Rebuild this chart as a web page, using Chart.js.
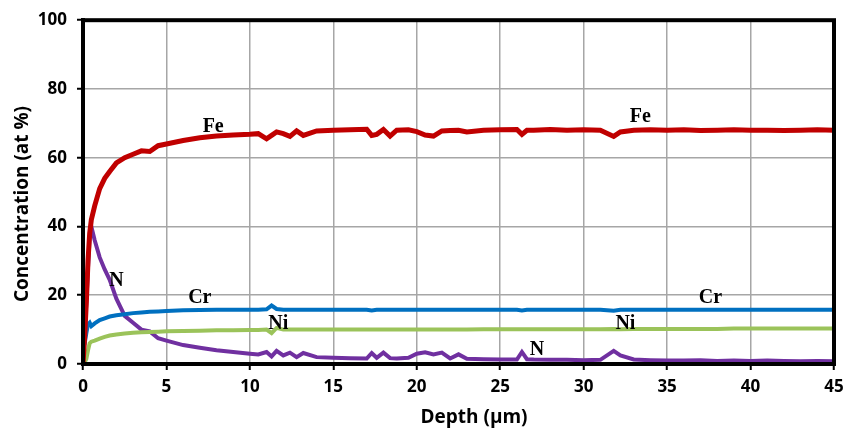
<!DOCTYPE html>
<html>
<head>
<meta charset="utf-8">
<script src="https://cdn.jsdelivr.net/npm/chart.js@4"></script>
<style>
  html, body { margin: 0; padding: 0; background: #fff; }
</style>
</head>
<body>
<canvas id="depthChart" width="854" height="429"></canvas>
<script>
// depth profile values (at %)
const depth = [0, 0.1, 0.2, 0.3, 0.4, 0.5, 0.7, 1, 1.3, 1.6, 2, 2.5, 3, 3.5, 4, 4.5, 5, 6, 7, 8, 9, 10,
    10.5, 11, 11.3, 11.6, 12, 12.4, 12.8, 13.2, 14, 15, 16, 17, 17.3, 17.6, 18, 18.4, 18.8, 19.5,
    20, 20.5, 21, 21.5, 22, 22.5, 23, 24, 25, 26, 26.3, 26.6, 27, 28, 29, 30, 31, 31.8, 32.2,
    33, 34, 35, 36, 37, 38, 39, 40, 41, 42, 43, 44, 45];
const fe = [0, 8, 18, 30, 38, 42, 46, 51, 54, 56, 58.5, 60, 61, 62, 61.8, 63.5, 64, 65, 65.8, 66.3, 66.6, 66.8,
    67, 65.5, 66.5, 67.5, 67, 66.2, 67.8, 66.5, 67.8, 68, 68.1, 68.3, 66.5, 66.8, 68.2, 66.3, 68, 68.1,
    67.6, 66.6, 66.3, 67.8, 67.9, 68, 67.5, 68, 68.1, 68.2, 66.8, 68, 68, 68.2, 68, 68.1, 68, 66.2, 67.5,
    68, 68.1, 68, 68.1, 67.9, 68, 68.1, 68, 68, 67.9, 68, 68.1, 68];
const nitrogen = [0, 8, 18, 28, 37, 40, 36, 31, 27.5, 24.5, 19, 14, 12, 10, 9.5, 7.5, 6.8, 5.5, 4.7, 4, 3.5, 3,
    2.8, 3.5, 2.2, 3.8, 2.5, 3.3, 2, 3.2, 2, 1.8, 1.7, 1.6, 3.2, 1.8, 3.3, 1.7, 1.6, 1.8,
    3, 3.4, 2.8, 3.3, 1.6, 2.8, 1.5, 1.4, 1.3, 1.3, 3.5, 1.4, 1.3, 1.2, 1.2, 1.1, 1.2, 3.8, 2.5,
    1.3, 1.1, 1, 1, 1.1, 0.9, 1, 0.9, 1, 0.9, 0.8, 0.9, 0.8];
const cr = [5, 6, 9, 11.5, 12, 11, 11.8, 12.8, 13.3, 13.8, 14.2, 14.5, 14.8, 15, 15.2, 15.3, 15.4, 15.6, 15.7, 15.8, 15.8, 15.8,
    15.8, 15.9, 17, 16, 15.8, 15.8, 15.8, 15.8, 15.8, 15.8, 15.8, 15.8, 15.6, 15.8, 15.8, 15.8, 15.8, 15.8,
    15.8, 15.8, 15.8, 15.8, 15.8, 15.8, 15.8, 15.8, 15.8, 15.8, 15.6, 15.8, 15.8, 15.8, 15.8, 15.8, 15.8, 15.5, 15.8,
    15.8, 15.8, 15.8, 15.8, 15.8, 15.8, 15.8, 15.8, 15.8, 15.8, 15.8, 15.8, 15.8];
const ni = [0, 0.5, 1.5, 4, 6, 6.5, 6.8, 7.4, 7.9, 8.3, 8.6, 8.9, 9.1, 9.2, 9.3, 9.4, 9.5, 9.6, 9.7, 9.8, 9.85, 9.9,
    9.9, 10, 9, 10.5, 10, 10, 10, 10, 10, 10, 10, 10, 10, 10, 10, 10, 10, 10,
    10, 10, 10, 10, 10, 10, 10, 10.1, 10.1, 10.1, 10.1, 10.1, 10.1, 10.1, 10.1, 10.1, 10.1, 10.2, 10.1,
    10.2, 10.2, 10.2, 10.2, 10.2, 10.2, 10.3, 10.3, 10.3, 10.3, 10.3, 10.3, 10.3];

// element labels placed inside the plot (data units)
const labelText = ["Fe", "Fe", "N", "N", "Cr", "Cr", "Ni", "Ni"];
const labelX = [7.8, 33.4, 2.0, 27.2, 7.0, 37.6, 11.7, 32.5];
const labelY = [68.9, 71.8, 24.2, 4.0, 19.3, 19.3, 11.8, 11.8];

const xTitle = "Depth (µm)";
const yTitle = "Concentration (at %)";

const tickFont = {family: "Open Sans", size: 17, weight: "bold"};

function toPoints(ys) {
    return depth.map((d, i) => ({x: d, y: ys[i]}));
}

const frameAndLabels = {
    id: "frameAndLabels",
    afterDatasetsDraw(chart) {
        const {ctx, chartArea, scales} = chart;
        ctx.save();
        //black box round the plot
        ctx.strokeStyle = "#000";
        ctx.lineWidth = 4;
        ctx.strokeRect(chartArea.left, chartArea.top, chartArea.right - chartArea.left, chartArea.bottom - chartArea.top);
        //element names
        ctx.fillStyle = "#000";
        ctx.font = "bold 20px 'Liberation Serif'";
        ctx.textAlign = "center"; ctx.textBaseline = "middle";
        labelText.forEach((t, i) => {
            ctx.fillText(t, scales.x.getPixelForValue(labelX[i]), scales.y.getPixelForValue(labelY[i]));
        });
        //axis titles, sitting a bit off centre like in the original
        ctx.font = "bold 19px 'Open Sans'";
        ctx.fillText(xTitle, 474, 418);
        ctx.translate(23, 204);
        ctx.rotate(-Math.PI / 2);
        ctx.fillText(yTitle, 0, 0);
        ctx.restore();
    }
};

new Chart(document.getElementById("depthChart"), {
    type: "line",
    data: {
        datasets: [
            {label: "Fe", data: toPoints(fe), borderColor: "#c00000", borderWidth: 5},
            {label: "Cr", data: toPoints(cr), borderColor: "#0070c0", borderWidth: 4},
            {label: "Ni", data: toPoints(ni), borderColor: "#9bc35a", borderWidth: 4},
            {label: "N", data: toPoints(nitrogen), borderColor: "#7030a0", borderWidth: 4}
        ]
    },
    options: {
        responsive: false, animation: false,
        layout: {padding: {top: 17, right: 20, left: 0, bottom: 0}},
        elements: {point: {radius: 0}, line: {tension: 0}},
        scales: {
            x: {
                type: "linear", min: 0, max: 45,
                ticks: {stepSize: 5, color: "#000", font: tickFont, padding: 7},
                grid: {color: "#a6a6a6", lineWidth: 1.5, tickColor: "#000", tickLength: 6, tickWidth: 2},
                border: {color: "#000", width: 4},
                afterFit(scale) { scale.height = 65; }
            },
            y: {
                min: 0, max: 100,
                ticks: {stepSize: 20, color: "#000", font: tickFont, padding: 10},
                grid: {color: "#a6a6a6", lineWidth: 1.5, tickColor: "#000", tickLength: 6, tickWidth: 2},
                border: {color: "#000", width: 4},
                afterFit(scale) { scale.width = 83; }
            }
        },
        plugins: {legend: {display: false}, tooltip: {enabled: false}}
    },
    plugins: [frameAndLabels]
});
</script>
</body>
</html>
